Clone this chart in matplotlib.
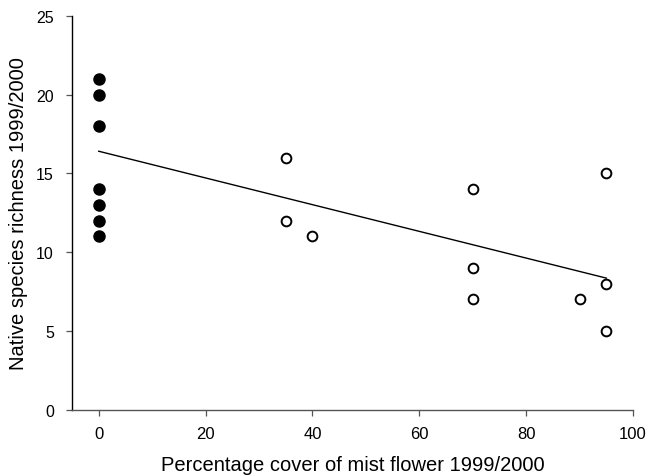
import matplotlib
matplotlib.use("Agg")
import matplotlib.pyplot as plt

# Sites without mist flower (cover 0)
uninvaded_cover = [0, 0, 0, 0, 0, 0, 0]
uninvaded_richness = [21, 20, 18, 14, 13, 12, 11]

# Sites invaded by mist flower
invaded_cover = [35, 35, 40, 70, 70, 70, 90, 95, 95, 95]
invaded_richness = [16, 12, 11, 14, 9, 7, 7, 15, 8, 5]

# Fitted regression line
fit_cover = [0, 95]
fit_richness = [16.4, 8.35]

x_ticks = [0, 20, 40, 60, 80, 100]
y_ticks = [0, 5, 10, 15, 20, 25]

plt.rcParams["font.family"] = ["Liberation Sans", "DejaVu Sans"]

fig = plt.figure(figsize=(6.48, 4.77), dpi=100)
ax = fig.add_axes([72 / 648, 1 - 410.7 / 477, (633 - 72) / 648, (410.7 - 16.7) / 477])

ax.plot(fit_cover, fit_richness, color="black", lw=1.0, zorder=2)
ax.plot(uninvaded_cover, uninvaded_richness, "o", color="black",
        markersize=8, zorder=3, clip_on=False)
ax.plot(invaded_cover, invaded_richness, "o", markerfacecolor="white",
        markeredgecolor="black", markeredgewidth=1.4, markersize=7,
        zorder=3, clip_on=False)

ax.set_xlim(-5, 100)
ax.set_ylim(0, 25)
ax.set_xticks(x_ticks)
ax.set_yticks(y_ticks)

for side in ("top", "right"):
    ax.spines[side].set_visible(False)
ax.spines["left"].set_color("black")
ax.spines["bottom"].set_color("#555555")
ax.spines["left"].set_linewidth(1.0)
ax.spines["bottom"].set_linewidth(1.0)

ax.tick_params(axis="both", direction="out", length=4, width=0.9,
               color="#555555")
ax.tick_params(axis="x", labelsize=12, pad=8)
ax.tick_params(axis="y", labelsize=11.5, pad=9)

ax.set_xlabel("Percentage cover of mist flower 1999/2000", fontsize=14.5, labelpad=10)
ax.set_ylabel("Native species richness 1999/2000", fontsize=14.5, labelpad=6)

fig.savefig("out.png", dpi=100)
